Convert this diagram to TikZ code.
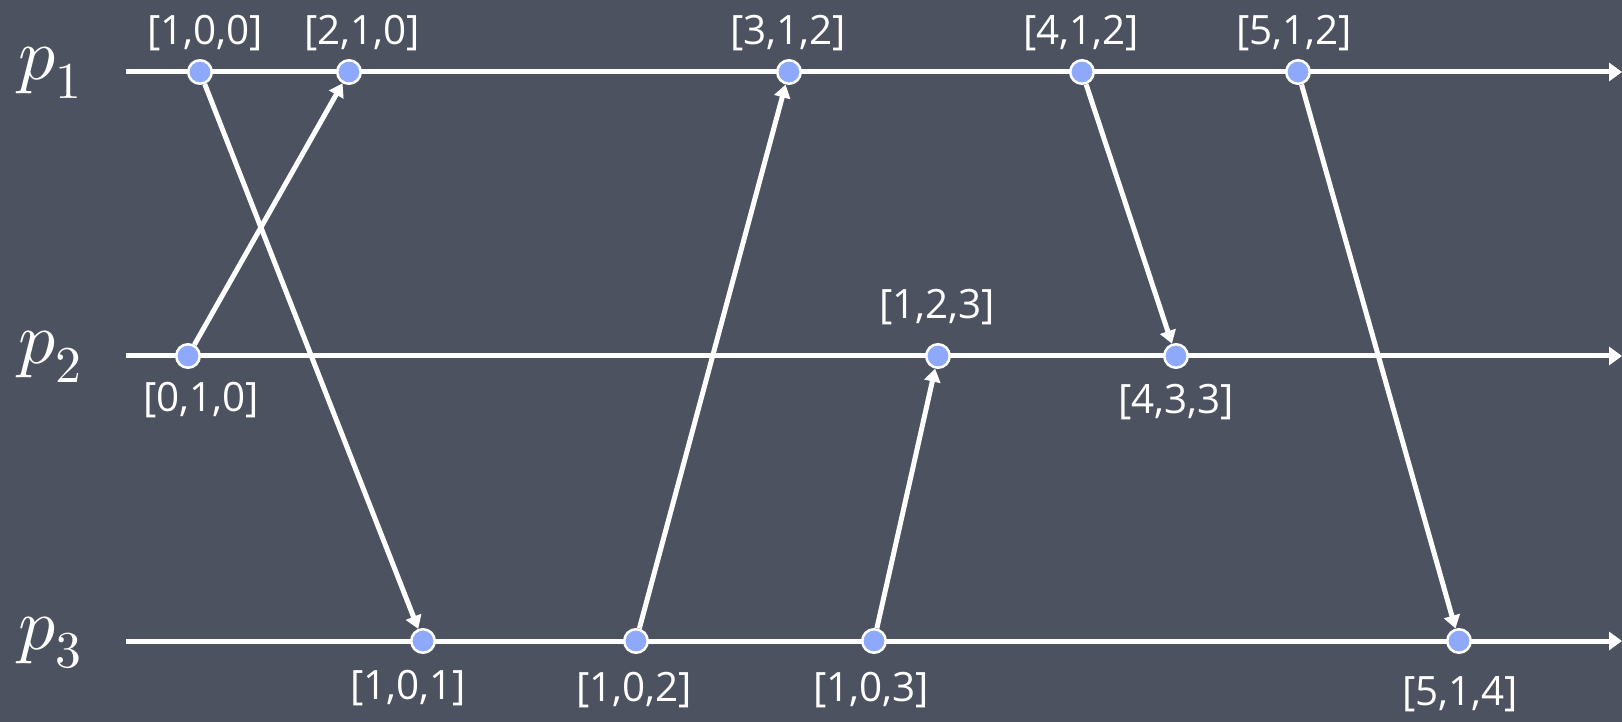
\documentclass[tikz,border=0pt]{standalone}
\usepackage{fontspec}
\usepackage{unicode-math}
\setmainfont{Open Sans}
\usetikzlibrary{arrows.meta}
\definecolor{boardgray}{RGB}{76,82,95}
\definecolor{dotblue}{RGB}{142,169,250}

\begin{document}
\begin{tikzpicture}[x=0.02cm, y=-0.02cm,
  timeline/.style={white, line width=0.1cm, -{Triangle[length=0.26cm,width=0.36cm]}},
  msg/.style={white, line width=0.1cm, -{Triangle[length=0.26cm,width=0.32cm]}},
  event/.style={circle, fill=dotblue, draw=white, line width=0.05cm, minimum size=0.47cm, inner sep=0pt},
  vclock/.style={text=white, font=\fontsize{23}{26}\selectfont, inner sep=0pt},
  proc/.style={text=white, font=\fontsize{42}{46}\selectfont, inner sep=0pt, anchor=base west}]
  \fill[boardgray] (0,0) rectangle (1622,722);
  \useasboundingbox (0,0) rectangle (1622,722);

  % process time lines
  \node[proc] (P1) at (18,80)  {$p_1$};
  \node[proc] (P2) at (18,364) {$p_2$};
  \node[proc] (P3) at (18,649) {$p_3$};
  \coordinate (s1) at (126,72);  \coordinate (t1) at (1622,72);
  \coordinate (s2) at (126,356); \coordinate (t2) at (1622,356);
  \coordinate (s3) at (126,641); \coordinate (t3) at (1622,641);
  \draw[timeline] (s1) -- (t1);
  \draw[timeline] (s2) -- (t2);
  \draw[timeline] (s3) -- (t3);

  % events
  \node[event] (a1) at (200,72) {};
  \node[event] (a2) at (349,72) {};
  \node[event] (a3) at (789,72) {};
  \node[event] (a4) at (1082,72) {};
  \node[event] (a5) at (1298,72) {};
  \node[event] (b1) at (188,356) {};
  \node[event] (b2) at (938,356) {};
  \node[event] (b3) at (1176,356) {};
  \node[event] (c1) at (423,641) {};
  \node[event] (c2) at (636,641) {};
  \node[event] (c3) at (874,641) {};
  \node[event] (c4) at (1459,641) {};

  % messages
  \draw[msg] (a1) -- (c1);
  \draw[msg] (b1) -- (a2);
  \draw[msg] (c2) -- (a3);
  \draw[msg] (c3) -- (b2);
  \draw[msg] (a4) -- (b3);
  \draw[msg] (a5) -- (c4);

  % vector clocks
  \node[vclock] (la1) at (205,33)  {[1,0,0]};
  \node[vclock] (la2) at (362,33)  {[2,1,0]};
  \node[vclock] (la3) at (788,33)  {[3,1,2]};
  \node[vclock] (la4) at (1081,33) {[4,1,2]};
  \node[vclock] (la5) at (1294,33) {[5,1,2]};
  \node[vclock] (lb1) at (201,400) {[0,1,0]};
  \node[vclock] (lb2) at (937,307) {[1,2,3]};
  \node[vclock] (lb3) at (1176,402) {[4,3,3]};
  \node[vclock] (lc1) at (408,688) {[1,0,1]};
  \node[vclock] (lc2) at (634,690) {[1,0,2]};
  \node[vclock] (lc3) at (871,690) {[1,0,3]};
  \node[vclock] (lc4) at (1460,694) {[5,1,4]};
\end{tikzpicture}
\end{document}
